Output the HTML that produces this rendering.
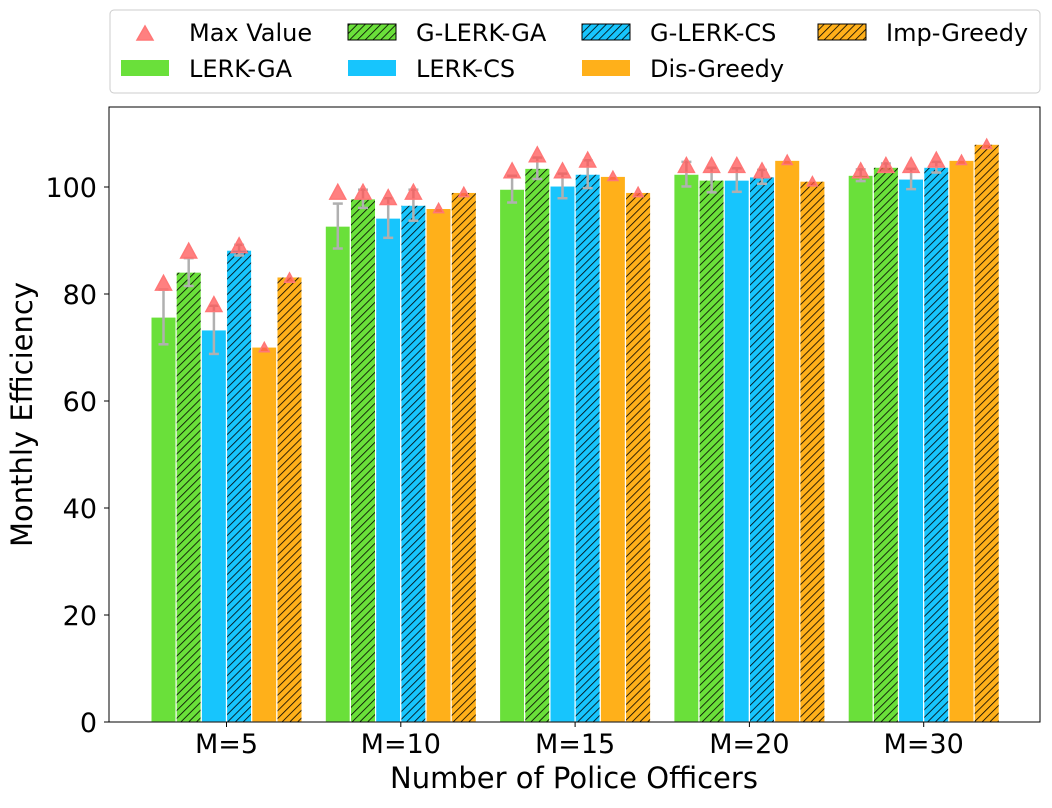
<!DOCTYPE html>
<html><head><meta charset="utf-8">
<style>
html,body{margin:0;padding:0;background:#fff;}
svg text{font-family:"DejaVu Sans","Liberation Sans",sans-serif;}
</style></head>
<body>
<svg id="chart" width="1052" height="803" viewBox="0 0 1052 803" xmlns="http://www.w3.org/2000/svg">
<defs>
<pattern id="hatch" patternUnits="userSpaceOnUse" width="5.5" height="5.5" patternTransform="rotate(45)">
<line x1="0" y1="0" x2="0" y2="5.5" stroke="#000" stroke-width="1.6"/>
</pattern>
</defs>
<g id="plot"></g>
<g id="legend"></g>
</svg>
<script>
const categories = ["M=5","M=10","M=15","M=20","M=30"];
const seriesNames = ["LERK-GA","G-LERK-GA","LERK-CS","G-LERK-CS","Dis-Greedy","Imp-Greedy"];
const lerkGA   = [75.7, 92.7, 99.6, 102.4, 102.2];
const gLerkGA  = [84.1, 97.8, 103.5, 101.3, 103.7];
const lerkCS   = [73.3, 94.2, 100.2, 101.3, 101.5];
const gLerkCS  = [88.2, 96.6, 102.4, 101.9, 103.7];
const disGreedy= [70.1, 96.0, 102.0, 105.0, 105.0];
const impGreedy= [83.2, 99.0, 99.0, 101.1, 108.0];
const errLerkGA  = [5.1, 4.2, 2.5, 2.3, 1.1];
const errGLerkGA = [2.6, 1.7, 2.0, 2.3, 0.7];
const errLerkCS  = [4.5, 3.7, 2.3, 2.2, 1.9];
const errGLerkCS = [1.0, 2.9, 2.6, 1.3, 1.0];
const errDis     = [0, 0, 0, 0, 0];
const errImp     = [0, 0, 0, 0, 0];
const maxLerkGA  = [82, 99, 103, 104, 103];
const maxGLerkGA = [88, 99, 106, 104, 104];
const maxLerkCS  = [78, 98, 103, 104, 104];
const maxGLerkCS = [89, 99, 105, 103, 105];
const maxDis     = [70, 96, 102, 105, 105];
const maxImp     = [83, 99, 99, 101, 108];
const yTicks = [0,20,40,60,80,100];

const series = [lerkGA,gLerkGA,lerkCS,gLerkCS,disGreedy,impGreedy];
const errs = [errLerkGA,errGLerkGA,errLerkCS,errGLerkCS,errDis,errImp];
const maxs = [maxLerkGA,maxGLerkGA,maxLerkCS,maxGLerkCS,maxDis,maxImp];
const colors = ["#6AE03A","#6AE03A","#17C5FD","#17C5FD","#FFB01A","#FFB01A"];
const hatched = [false,true,false,true,false,true];

const NS="http://www.w3.org/2000/svg";
const L=109,R=1040,T=107,B=722;
function yS(v){return B-(v)*5.35;}
function xC(i){return 226.5+i*174.3;}
const bw=25.2;
function mk(tag,attrs,parent){const e=document.createElementNS(NS,tag);for(const k in attrs)e.setAttribute(k,attrs[k]);parent.appendChild(e);return e;}
const plot=document.getElementById('plot');

series.forEach((vals,s)=>{
  vals.forEach((v,i)=>{
    const x=xC(i)-3*bw+s*bw;
    const r=mk('rect',{x:x,y:yS(v),width:bw,height:B-yS(v),fill:colors[s],stroke:'#fff','stroke-width':1.2},plot);
    
    
    if(hatched[s]){
      const h=mk('rect',{x:x+0.6,y:yS(v)+0.6,width:bw-1.2,height:B-yS(v)-0.6,fill:'url(#hatch)'},plot);
      
      
    }
  });
});
series.forEach((vals,s)=>{
  vals.forEach((v,i)=>{
    const cx=xC(i)-3*bw+s*bw+bw/2;
    const e=errs[s][i];
    if(e>0){
      const g=mk('g',{stroke:'#b0b0b0','stroke-width':2.5},plot);
      
      
      mk('line',{x1:cx,x2:cx,y1:yS(v+e),y2:yS(v-e)},g);
      mk('line',{x1:cx-5,x2:cx+5,y1:yS(v+e),y2:yS(v+e)},g);
      mk('line',{x1:cx-5,x2:cx+5,y1:yS(v-e),y2:yS(v-e)},g);
    }
    const m=maxs[s][i], my=yS(m), sz=(s>=4)?5:8;
    const t=mk('polygon',{points:`${cx-sz},${my+sz*0.85} ${cx+sz},${my+sz*0.85} ${cx},${my-sz}`,fill:'#FF5555','fill-opacity':0.75,stroke:'#FF7777','stroke-width':1.5},plot);
    
    
  });
});
const fr=mk('rect',{x:L,y:T,width:R-L,height:B-T,fill:'none',stroke:'#000','stroke-width':1},plot);


yTicks.forEach(t=>{
  const y=yS(t);
  mk('line',{x1:L-5,x2:L,y1:y,y2:y,stroke:'#000'},plot);
  const tx=mk('text',{x:L-12,y:y+10,'text-anchor':'end','font-size':27},plot);
  tx.textContent=t;
  
  
});
categories.forEach((c,i)=>{
  const x=xC(i);
  mk('line',{x1:x,x2:x,y1:B,y2:B+5,stroke:'#000'},plot);
  const tx=mk('text',{x:x,y:B+31,'text-anchor':'middle','font-size':27},plot);
  tx.textContent=c;
  
  
});
const xt=mk('text',{x:574,y:788,'text-anchor':'middle','font-size':29},plot);
xt.textContent='Number of Police Officers';


const yt=mk('text',{x:0,y:0,'text-anchor':'middle','font-size':29,transform:`translate(32,${(T+B)/2}) rotate(-90)`},plot);
yt.textContent='Monthly Efficiency';



const lg=document.getElementById('legend');
const box=mk('rect',{x:110,y:10,width:930,height:83,rx:4,fill:'#fff',stroke:'#ccc','stroke-width':1},lg);


const entries=[
 {label:'Max Value',col:0,row:0,type:'tri'},
 {label:'LERK-GA',col:0,row:1,s:0},
 {label:'G-LERK-GA',col:1,row:0,s:1},
 {label:'LERK-CS',col:1,row:1,s:2},
 {label:'G-LERK-CS',col:2,row:0,s:3},
 {label:'Dis-Greedy',col:2,row:1,s:4},
 {label:'Imp-Greedy',col:3,row:0,s:5}];
const colX=[121,348,582,818];
entries.forEach(en=>{
  const x=colX[en.col], y=24+en.row*36;
  const g=mk('g',{},lg);
  
  
  if(en.type==='tri'){
    mk('polygon',{points:`${x+16},${y+16} ${x+32},${y+16} ${x+24},${y+2}`,fill:'#FF5555','fill-opacity':0.75,stroke:'#FF7777','stroke-width':1.5},g);
  } else {
    mk('rect',{x:x,y:y,width:48,height:16,fill:colors[en.s]},g);
    if(hatched[en.s]){
      mk('rect',{x:x,y:y,width:48,height:16,fill:'url(#hatch)',stroke:'#000','stroke-width':1},g);
    }
  }
  const t=mk('text',{x:x+68,y:y+17,'font-size':24},g);
  t.textContent=en.label;
});
</script>
</body></html>
